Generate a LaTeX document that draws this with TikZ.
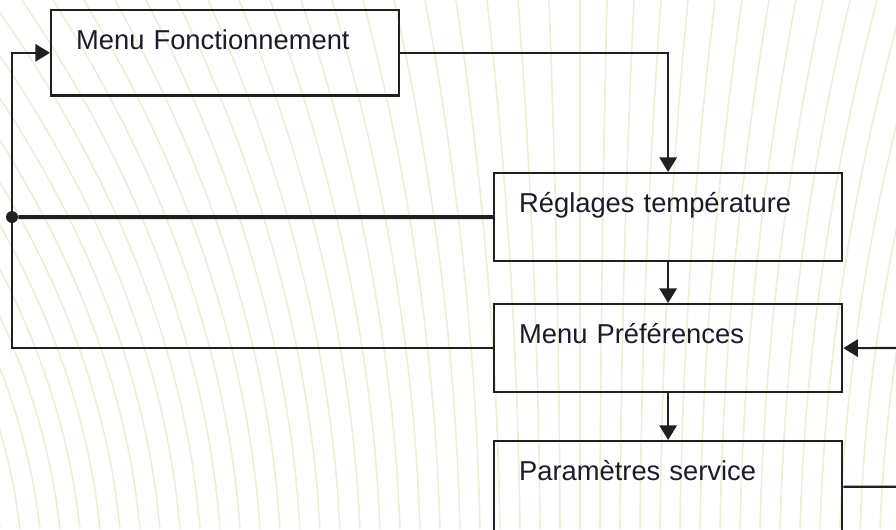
\documentclass[tikz,border=0pt]{standalone}
\usepackage{fontspec}
\setmainfont{Liberation Sans}
\usetikzlibrary{arrows.meta}

\definecolor{linecol}{RGB}{35,31,32}
\definecolor{textcol}{RGB}{28,28,40}
\definecolor{bgcol}{RGB}{236,238,216}

\tikzset{
  menubox/.style={draw=linecol, line width=1.7pt, anchor=north west, text width=223.5pt, align=left,
    inner xsep=18.75pt, inner ysep=0pt, text height=29.5pt, text depth=#1,
    font=\fontsize{20.5pt}{24pt}\selectfont, text=textcol},
  link/.style={draw=linecol, line width=1.6pt},
  flow/.style={link, -{Triangle[length=11pt,width=13pt]}},
  junction/.style={circle, fill=linecol, inner sep=0pt, minimum size=9pt},
  bgline/.style={draw=bgcol, line width=1.2pt}
}

\begin{document}
\begin{tikzpicture}[x=0.75pt,y=-0.75pt]

      \useasboundingbox (0,0) rectangle (896,529);
      \begin{scope}
        \clip (0,0) rectangle (896,529);
        \foreach \xb in {0,20,...,900}{
          \pgfmathsetmacro{\bend}{\xb<580 ? -0.55*(580-\xb) : 0.35*(\xb-580)}
          \draw[bgline] plot[smooth, domain=0:1, samples=15, variable=\s]
            ({\xb+\bend*(0.2*\s+0.8*\s*\s)}, {529*(1-\s)});
        }
      \end{scope}

      \path (50,9) node [menubox=34.5pt](fonct){Menu Fonctionnement};
      \path (493,172) node [menubox=36.5pt](regl){Réglages température};
      \path (493,303) node [menubox=36.5pt](pref){Menu Préférences};
      \path (493,440) node [menubox=39pt](param){Paramètres service};
      \path (12,217) node [junction](jn){};
      \path (896,348) coordinate (from_right) (896,486.7) coordinate (to_right);
      % \path[red] (12,53) node{a} (12,348) node{b};
      \draw[flow] (fonct.east) -| (regl.north);
      \draw[flow] (regl.south) -- (pref.north);
      \draw[flow] (pref.south) -- (param.north);
      \draw[link,line width=3pt] (regl.west) -- (jn);
      \draw[flow] (jn) |- (fonct.west);
      \draw[link] (jn) |- (pref.west);
      \draw[flow] (from_right) -- (pref.east);
      \draw[link] (param.east) -- (to_right);

    \end{tikzpicture}
\end{document}
